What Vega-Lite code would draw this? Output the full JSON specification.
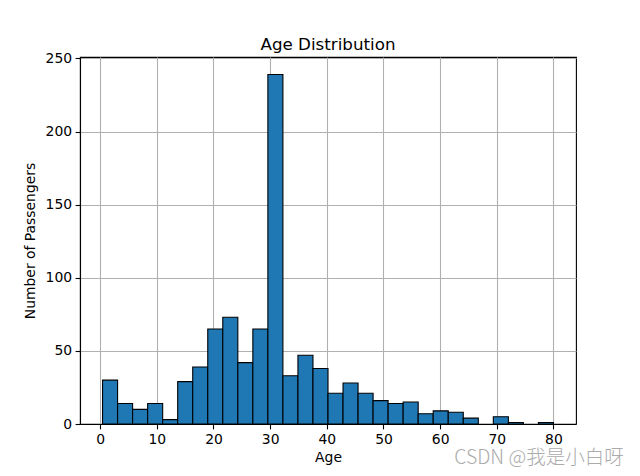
{
  "$schema": "https://vega.github.io/schema/vega-lite/v6.json",
  "autosize": "none",
  "width": 496,
  "height": 367,
  "padding": {"left": 80, "top": 57, "right": 64, "bottom": 52},
  "background": "white",
  "title": {"text": "Age Distribution", "font": "DejaVu Sans", "fontSize": 16.7, "fontWeight": "normal", "color": "black", "anchor": "middle", "frame": "group", "offset": -2},
  "config": {
    "view": {"stroke": "black", "strokeWidth": 1.1},
    "axis": {
      "labelFont": "DejaVu Sans", "labelFontSize": 13.9, "labelColor": "black",
      "titleFont": "DejaVu Sans", "titleFontSize": 13.9, "titleFontWeight": "normal", "titleColor": "black",
      "domainColor": "black", "domainWidth": 1.1, "tickColor": "black", "tickWidth": 1.1, "tickSize": 4.9,
      "labelPadding": 3.5, "gridColor": "#b0b0b0", "gridWidth": 1.1, "zindex": 1
    }
  },
  "layer": [
    {
      "data": {"values": [
        {"start": 0.42, "end": 3.0727, "count": 30},
        {"start": 3.0727, "end": 5.7253, "count": 14},
        {"start": 5.7253, "end": 8.378, "count": 10},
        {"start": 8.378, "end": 11.0307, "count": 14},
        {"start": 11.0307, "end": 13.6833, "count": 3},
        {"start": 13.6833, "end": 16.336, "count": 29},
        {"start": 16.336, "end": 18.9887, "count": 39},
        {"start": 18.9887, "end": 21.6413, "count": 65},
        {"start": 21.6413, "end": 24.294, "count": 73},
        {"start": 24.294, "end": 26.9467, "count": 42},
        {"start": 26.9467, "end": 29.5993, "count": 65},
        {"start": 29.5993, "end": 32.252, "count": 239},
        {"start": 32.252, "end": 34.9047, "count": 33},
        {"start": 34.9047, "end": 37.5573, "count": 47},
        {"start": 37.5573, "end": 40.21, "count": 38},
        {"start": 40.21, "end": 42.8627, "count": 21},
        {"start": 42.8627, "end": 45.5153, "count": 28},
        {"start": 45.5153, "end": 48.168, "count": 21},
        {"start": 48.168, "end": 50.8207, "count": 16},
        {"start": 50.8207, "end": 53.4733, "count": 14},
        {"start": 53.4733, "end": 56.126, "count": 15},
        {"start": 56.126, "end": 58.7787, "count": 7},
        {"start": 58.7787, "end": 61.4313, "count": 9},
        {"start": 61.4313, "end": 64.084, "count": 8},
        {"start": 64.084, "end": 66.7367, "count": 4},
        {"start": 66.7367, "end": 69.3893, "count": 0},
        {"start": 69.3893, "end": 72.042, "count": 5},
        {"start": 72.042, "end": 74.6947, "count": 1},
        {"start": 74.6947, "end": 77.3473, "count": 0},
        {"start": 77.3473, "end": 80.0, "count": 1}
      ]},
      "transform": [{"filter": "datum.count > 0"}],
      "mark": {"type": "bar", "fill": "#1f77b4", "stroke": "black", "strokeWidth": 1.1},
      "encoding": {
        "x": {"field": "start", "type": "quantitative", "title": "Age",
              "scale": {"domain": [-3.559, 83.979], "nice": false, "zero": false},
              "axis": {"values": [0, 10, 20, 30, 40, 50, 60, 70, 80], "titlePadding": 4}},
        "x2": {"field": "end"},
        "y": {"field": "count", "type": "quantitative", "title": "Number of Passengers",
              "scale": {"domain": [0, 250.95], "nice": false},
              "axis": {"values": [0, 50, 100, 150, 200, 250], "titlePadding": 8}},
        "y2": {"datum": 0}
      }
    },
    {
      "data": {"values": [{"label": "CSDN @我是小白呀"}]},
      "mark": {"type": "text", "font": "Noto Sans CJK SC", "fontSize": 19.5, "fontWeight": 300, "color": "#ababab", "align": "right", "baseline": "alphabetic", "clip": false},
      "encoding": {
        "text": {"field": "label"},
        "x": {"datum": 92.4, "type": "quantitative"},
        "y": {"datum": -27.5, "type": "quantitative"}
      }
    }
  ]
}
